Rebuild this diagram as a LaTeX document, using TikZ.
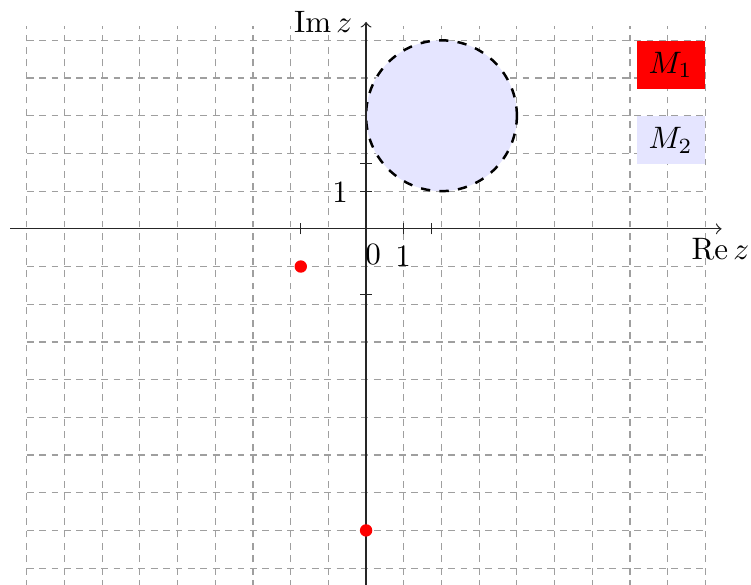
\documentclass[tikz,border=0pt]{standalone}
\usepackage{amsmath}
\begin{document}
\begin{tikzpicture}[x=0.4275cm, y=0.4275cm,
    gridline/.style={gray!75, thin, dash pattern=on 2.2pt off 1.8pt},
    axisline/.style={->, black!85},
    tickmark/.style={black!85},
    legendbox/.style={anchor=north east, minimum width=22pt, minimum height=15.5pt, inner sep=2pt}]
    \useasboundingbox (-9.71,-9.44) rectangle (10.21,6.07);

    % Grid
    \foreach \x in {-9,...,9}
        \draw[gridline] (\x,-9.5) -- (\x,5.39);
    \foreach \y in {-9,...,5}
        \draw[gridline] (-9,\y) -- (9,\y);

    % Disc M_2
    \draw[black, thick, dashed, fill=blue!10] (2,3) circle (2);

    % Axes
    \draw[axisline] (-9.44,0) -- (9.43,0);
    \draw[axisline] (0,-9.5) -- (0,5.49);
    \node (relab) at (9.40,-0.54) {$\operatorname{Re} z$};
    \node (imlab) at (-1.14,5.49) {$\operatorname{Im} z$};

    % Ticks
    \foreach \t in {-1.732, 1, 1.732} {
        \draw[tickmark] (\t,-1.8pt) -- (\t,1.8pt);
        \draw[tickmark] (-1.8pt,\t) -- (1.8pt,\t);
    }
    \node (zero) at (0.19,-0.69) {$0$};
    \node (xone) at (0.98,-0.74) {$1$};
    \node (yone) at (-0.69,0.96) {$1$};

    % Points of M_1
    \fill[red] (-1.732,-1) circle (2pt);
    \fill[red] (0,-8) circle (2pt);

    % Legend
    \node[legendbox, fill=red] (mone) at (9,5) {$M_1$};
    \node[legendbox, fill=blue!10] (mtwo) at (9,3) {$M_2$};
\end{tikzpicture}
\end{document}
